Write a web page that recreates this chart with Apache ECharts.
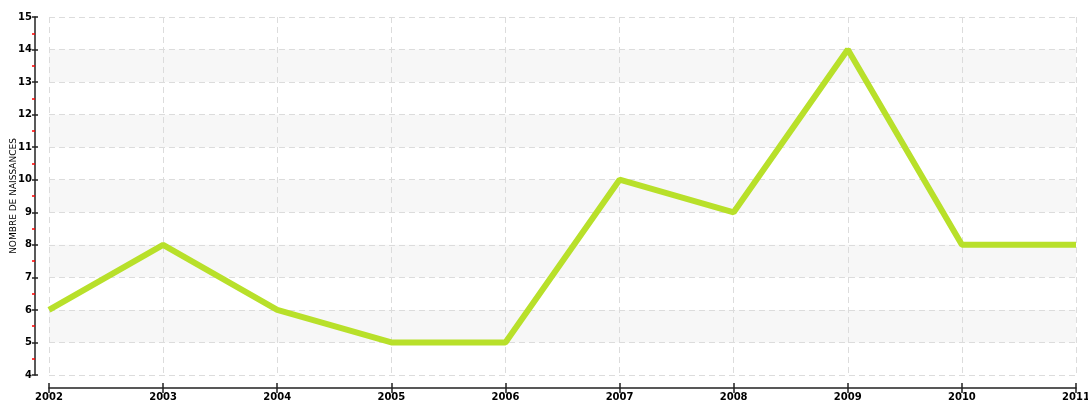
<!DOCTYPE html>
<html>
<head>
<meta charset="utf-8">
<script src="https://cdn.jsdelivr.net/npm/echarts@6/dist/echarts.min.js"></script>
<style>
  html, body { margin: 0; padding: 0; background: #fff; }
  #chart { width: 1088px; height: 405px; }
</style>
</head>
<body>
<div id="chart"></div>
<script>
// years and births
const years = ['2002', '2003', '2004', '2005', '2006', '2007', '2008', '2009', '2010', '2011']
const naissances = [6, 8, 6, 5, 5, 10, 9, 14, 8, 8]
const yName = 'NOMBRE DE NAISSANCES'

const chart = echarts.init(document.getElementById('chart'))
const font = { fontFamily: 'DejaVu Sans', fontSize: 10, color: '#000', fontWeight: 'bold' }

chart.setOption({
    animation: false,
    grid: { left: 49, right: 12, top: 17, bottom: 30, outerBoundsMode: 'none', containLabel: false },
    xAxis: [
        {
            type: 'category',
            data: years,
            boundaryGap: false,
            offset: 13,
            axisLine: { lineStyle: { color: '#222', width: 1.5 } },
            axisTick: { length: 5, alignWithLabel: true, lineStyle: { color: '#222', width: 1.5 } },
            axisLabel: Object.assign({ margin: 4 }, font),
            splitLine: { show: true, lineStyle: { type: [6, 4], color: '#dcdcdc' } }
        },
        {
            type: 'category',
            data: years,
            boundaryGap: false,
            position: 'bottom',
            offset: 13,
            axisLine: { show: false },
            axisTick: { inside: true, length: 5, lineStyle: { color: '#222', width: 1.5 } },
            axisLabel: { show: false },
            splitLine: { show: false }
        }
    ],
    yAxis: [
        {
            type: 'value',
            min: 4,
            max: 15,
            interval: 1,
            offset: 14,
            name: yName,
            nameLocation: 'middle',
            nameGap: 17,
            nameMoveOverlap: false,
            nameRotate: 90,
            nameTextStyle: { fontFamily: 'DejaVu Sans', fontSize: 9, color: '#000', letterSpacing: 1 },
            axisLine: { show: true, lineStyle: { color: '#222', width: 1.5 } },
            axisTick: { show: true, length: 3, lineStyle: { color: '#222', width: 1.5 } },
            minorTick: { show: true, splitNumber: 2, length: 3, lineStyle: { color: '#f00', width: 1.5 } },
            axisLabel: Object.assign({ margin: 3 }, font),
            splitLine: { show: true, lineStyle: { type: [6, 4], color: '#dcdcdc' } },
            splitArea: { show: true, areaStyle: { color: ['rgba(255,255,255,0)', '#f7f7f7'] } }
        },
        {
            type: 'value',
            min: 4,
            max: 15,
            interval: 1,
            offset: 14,
            position: 'left',
            axisLine: { show: false },
            axisTick: { show: true, inside: true, length: 3, lineStyle: { color: '#222', width: 1.5 } },
            axisLabel: { show: false },
            splitLine: { show: false }
        }
    ],
    series: [
        {
            type: 'line',
            data: naissances,
            symbol: 'none',
            lineStyle: { color: '#b8e02a', width: 6 }
        }
    ]
})
</script>
</body>
</html>
